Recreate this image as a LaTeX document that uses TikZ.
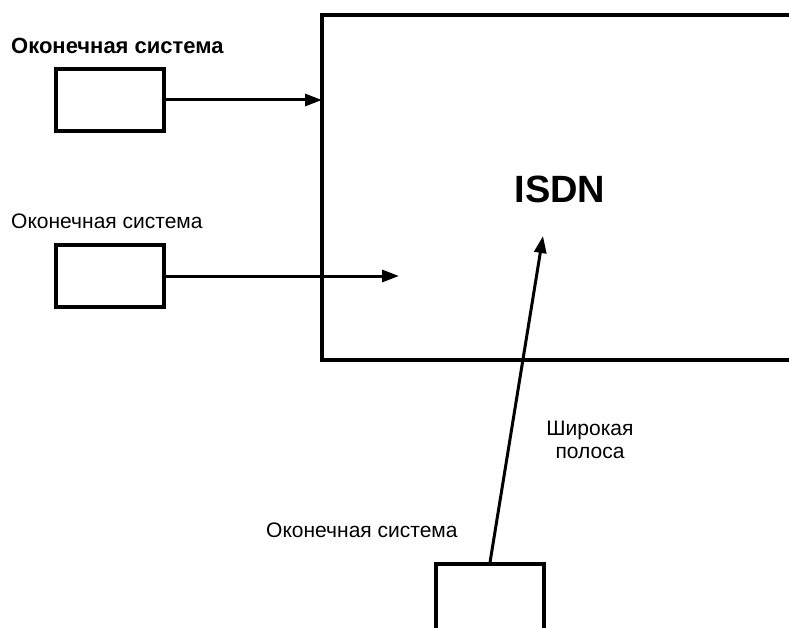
\documentclass[tikz,border=0pt]{standalone}
\usepackage{fontspec}
\setmainfont{Liberation Sans}
\usetikzlibrary{arrows.meta}
\begin{document}
\begin{tikzpicture}[x=1pt,y=-1pt,
  sysbox/.style={draw,line width=3.2pt,minimum width=108pt,minimum height=62pt,inner sep=0pt},
  frame/.style={line width=3.2pt},
  conn/.style={line width=3pt,-{Triangle[length=17pt,width=12pt]}},
  lbl/.style={inner sep=0pt,font=\fontsize{21}{23}\selectfont}]
\useasboundingbox (0,0) rectangle (789,628);
\clip (0,0) rectangle (789,628);
% ISDN network area (open to the right)
\coordinate (ntl) at (322,15);
\coordinate (nbl) at (322,360);
\draw[frame] (800,15) -- (ntl) -- (nbl) -- (800,360);
\node[inner sep=0pt,font=\fontsize{38}{40}\selectfont\bfseries,anchor=base] (isdn) at (560,203) {ISDN};
% end systems
\node[sysbox] (s1) at (110,100) {};
\node[sysbox] (s2) at (110,276) {};
\node[sysbox,minimum height=90pt] (s3) at (490,609) {};
% labels
\node[lbl,font=\fontsize{22}{24}\selectfont\bfseries,anchor=base west] (l1) at (11,54) {Оконечная система};
\node[lbl,anchor=base west] (l2) at (11,229) {Оконечная система};
\node[lbl,anchor=base west] (l3) at (266,537) {Оконечная система};
\node[lbl,align=center,anchor=center] (bw) at (590,440) {Широкая\\полоса};
% connectors
\coordinate (t1) at (322,100);
\coordinate (t2) at (399,276);
\coordinate (t3) at (543,236);
\draw[conn] (s1.east) -- (t1);
\draw[conn] (s2.east) -- (t2);
\draw[conn] (s3.north) -- (t3);
\end{tikzpicture}
\end{document}
